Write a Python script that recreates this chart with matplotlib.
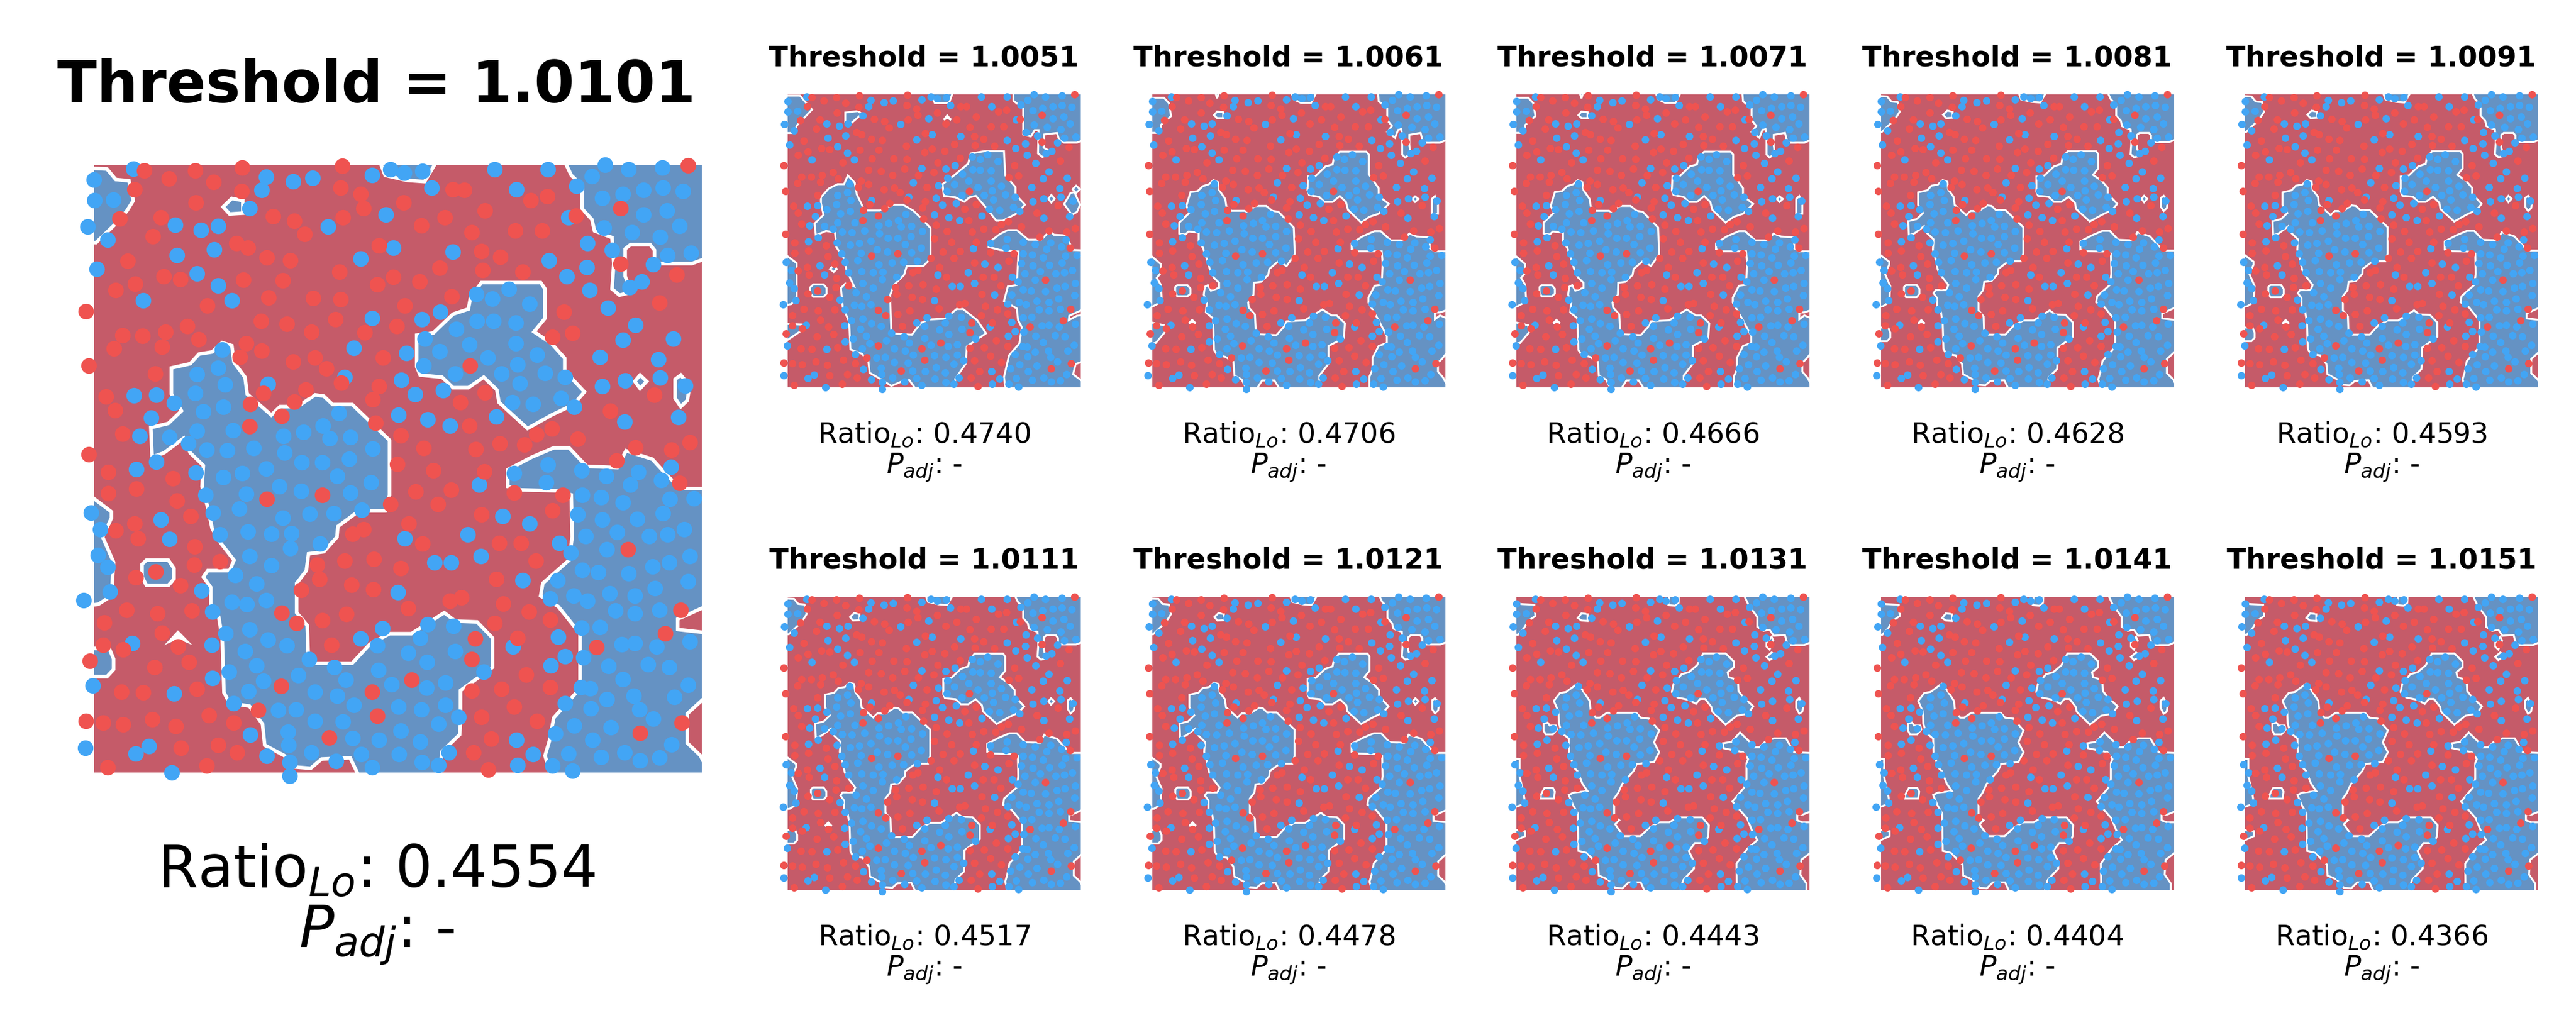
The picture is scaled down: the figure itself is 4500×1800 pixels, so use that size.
import numpy as np
from matplotlib import pyplot as plt

# spot positions (image-like coords, y goes down)
blue_spots = [(175,75),(85,100),(478,93),(540,104),(584,96),(468,125),(720,90),(762,76),(793,84),(835,80),(1000,76),(1122,76),(1252,65),(1222,92),(1306,76),(1383,72),(1187,115),(856,120),(1050,124),(1292,134),(1340,125),(1384,120),(1430,128),(86,150),(130,148),(1246,144),
    (440,169),(752,184),(1168,190),(1340,184),(1393,174),(1250,215),(70,212),(270,208),(330,220),(369,210),(620,212),(1314,226),(1422,210),(1377,236),(116,243),(1212,252),(768,262),(360,267),(275,280),(694,288),(904,272),(1268,268),(1394,280),(1448,274),(1124,292),(92,313),(1210,308),(1362,302),(320,323),(1164,331),(1308,356),(1336,343),(368,352),(1217,363),(198,388),(400,388),(958,372),(995,384),(1032,360),(1080,396),(1259,405),(876,415),(720,430),(834,433),(960,436),(997,437),(1048,440),(1322,446),(912,456),(840,478),(1293,481),(1408,478),(942,492),(1048,490),(378,505),(678,500),(875,508),(798,513),(1096,517),(984,523),(1241,522),(1374,527),(838,542),(1052,540),(368,548),(320,563),(910,562),(1015,562),(1115,560),(1160,570),(658,570),(482,586),(787,576),(1377,571),(1298,578),(1058,585),(384,587),(1246,592),(1435,590),(882,601),(818,610),(176,614),(227,612),(316,608),(268,631),(1152,620),(1040,630),(1088,634),(1182,640),(380,640),(335,651),(644,656),(216,667),(780,659),(1004,664),(847,671),(1419,665),(1296,676),(898,686),(608,685),(320,698),(402,697),(563,700),(189,710),(258,713),(517,710),(623,716),(670,713),(300,728),(342,742),(389,744),(449,738),(520,750),(722,740),(228,771),(668,765),(560,772),(606,773),(182,789),(317,797),(478,788),(424,798),(1044,799),(1122,778),(1199,792),(1255,805),(1328,795),(1402,783),(380,808),(640,805),(718,820),(1118,820),(964,825),(1380,815),(1310,826),(508,830),(558,840),(670,845),(340,850),(433,847),(1200,850),(1243,856),(1400,860),(1455,858),(1293,868),(78,892),(417,883),(357,892),(697,885),(578,895),(632,893),(1190,897),(1384,894),(516,904),(100,932),(238,909),(1246,908),(1325,907),(1018,900),(1079,918),(372,944),(436,937),(490,942),(536,941),(938,944),(1280,938),(1432,932),(1208,948),(1353,948),(1394,944),(258,955),(795,954),(601,966),(1148,964),(533,977),(1256,980),(94,993),(1174,988),(440,995),(968,996),(1446,996),(116,1022),(863,1010),(900,1010),(490,1018),(1360,1020),(1398,1010),(1200,1028),(1236,1034),(1306,1037),(408,1041),(456,1061),(1144,1053),(1442,1055),(1064,1053),(122,1080),(331,1077),(779,1082),(1366,1072),(62,1100),(400,1104),(434,1110),(478,1100),(1180,1090),(1127,1097),(1212,1102),(1263,1084),(1320,1090),(1376,1124),(356,1127),(1275,1125),(1320,1132),(440,1170),(744,1167),(385,1180),(847,1157),(906,1162),(1198,1166),(1240,1164),(830,1190),(482,1195),(694,1192),(1145,1188),(172,1202),(354,1206),(526,1208),(732,1208),(1042,1210),(1445,1198),(1290,1205),(1320,1202),(1370,1210),(910,1222),(430,1222),(803,1226),(1160,1234),(576,1241),(1202,1237),(846,1248),(456,1256),(634,1260),(734,1266),(1128,1256),(1350,1253),(1398,1260),(1260,1257),(975,1270),(394,1270),(356,1285),(552,1279),(660,1290),(472,1292),(1293,1288),(83,1303),(764,1300),(888,1297),(1197,1307),(1218,1310),(1441,1302),(845,1308),(268,1322),(438,1317),(590,1318),(640,1328),(1318,1328),(1410,1330),(1256,1336),(404,1346),(1160,1346),(678,1349),(780,1353),(888,1350),(506,1362),(547,1360),(832,1361),(1220,1358),(1330,1360),(917,1378),(590,1387),(654,1389),(1362,1382),(872,1395),(1182,1398),(786,1410),(528,1414),(1265,1403),(442,1420),(1139,1418),(676,1428),(736,1432),(830,1436),(1224,1432),(530,1445),(1404,1444),(65,1452),(210,1447),(180,1465),(480,1470),(895,1462),(1050,1432),(582,1463),(695,1466),(782,1467),(1168,1465),(1296,1463),(1087,1467),(1243,1473),(1332,1482),(1376,1475),(532,1485),(638,1483),(834,1486),(872,1492),(720,1498),(1052,1492),(1132,1494),(1178,1506),(263,1510),(532,1518)]

red_spots = [(200,78),(316,79),(424,72),(652,68),(1442,66),(256,97),(358,106),(178,124),(422,127),(648,119),(694,135),(904,124),(930,125),(1082,150),(1120,140),(318,155),(792,155),(700,168),(1288,168),(978,174),(494,187),(238,190),(654,190),(886,190),(1186,186),(144,193),(543,198),(832,209),(1108,222),(1047,222),(948,226),(566,230),(220,235),(410,252),(436,262),(736,257),(970,271),(1013,284),(480,286),(533,292),(162,293),(1288,300),(646,320),(874,310),(972,316),(1064,320),(1415,326),(245,331),(283,337),(426,338),(516,340),(768,332),(829,343),(179,348),(732,350),(135,363),(484,380),(586,382),(648,385),(902,378),(1376,393),(67,414),(344,400),(795,400),(1158,415),(466,437),(526,443),(637,433),(776,449),(298,449),(248,462),(582,462),(703,463),(1178,465),(1132,475),(150,470),(196,472),(324,480),(432,490),(131,502),(240,498),(468,507),(418,522),(540,533),(590,524),(745,523),(73,543),(615,549),(944,543),(225,562),(650,583),(568,600),(736,592),(472,608),(112,616),(978,606),(1364,612),(722,623),(542,628),(442,634),(922,630),(133,649),(1264,650),(514,662),(728,678),(440,687),(943,685),(1130,692),(1095,706),(150,704),(786,709),(1190,717),(1068,731),(1445,725),(1011,727),(957,741),(838,739),(1322,737),(1404,743),(73,754),(1278,768),(778,777),(118,796),(976,794),(860,792),(266,810),(1422,822),(182,835),(1044,845),(820,842),(900,838),(118,846),(606,850),(1155,850),(480,860),(274,864),(870,872),(762,872),(1132,887),(306,900),(970,896),(804,918),(178,918),(135,934),(676,942),(700,932),(186,953),(835,966),(1010,964),(1060,965),(315,972),(1305,979),(657,1007),(724,1002),(1094,1007),(314,1016),(372,1008),(595,1016),(786,1024),(226,1032),(180,1046),(600,1050),(1004,1050),(282,1065),(673,1064),(723,1074),(558,1076),(924,1094),(898,1102),(1020,1108),(802,1120),(1424,1124),(160,1124),(662,1133),(1078,1127),(514,1130),(308,1125),(230,1132),(606,1148),(108,1154),(548,1155),(1127,1147),(1000,1155),(240,1178),(1389,1180),(955,1191),(1052,1190),(628,1207),(106,1206),(277,1210),(152,1218),(1233,1212),(948,1240),(76,1244),(302,1248),(224,1260),(1072,1278),(810,1289),(1127,1307),(1016,1312),(948,1315),(512,1305),(720,1318),(148,1318),(198,1320),(320,1312),(1044,1354),(460,1362),(348,1374),(732,1375),(970,1378),(218,1383),(67,1388),(106,1392),(152,1396),(404,1392),(272,1400),(1097,1387),(1427,1392),(1332,1416),(622,1427),(992,1430),(284,1452),(368,1445),(412,1462),(952,1463),(116,1498),(342,1494),(985,1503)]

# Lo regions, hand traced versions of the outline, each in its own frame
mid_frame = (85, 1473, 65, 1510)
mid_regions = [
    [(85,72),(115,75),(135,100),(165,103),(175,150),(160,175),(135,205),(110,230),(90,250),(85,250)],
    [(730,65),(750,90),(800,102),(840,105),(880,65)],
    [(380,165),(400,145),(425,150),(425,180),(395,182)],
    [(1150,65),(1175,90),(1200,115),(1200,170),(1222,195),(1228,222),(1268,238),(1272,300),(1268,360),(1285,375),(1312,368),(1298,330),(1298,265),(1310,255),(1355,255),(1365,268),(1365,295),(1380,300),(1450,300),(1473,280),(1473,65)],
    [(970,345),(1105,345),(1115,360),(1115,430),(1090,462),(1130,490),(1160,525),(1160,555),(1205,605),(1180,635),(1130,660),(1075,692),(1010,630),(1005,600),(975,570),(940,595),(905,595),(880,570),(830,565),(822,545),(822,470),(860,465),(905,420),(940,408),(945,380)],
    [(378,488),(400,495),(405,535),(430,570),(435,610),(490,660),(510,640),(550,640),(590,612),(610,615),(630,635),(675,635),(710,670),(760,720),(760,850),(750,888),(690,888),(642,925),(640,950),(610,985),(575,990),(570,1030),(548,1060),(548,1130),(572,1160),(575,1250),(675,1250),(715,1205),(760,1180),(810,1180),(885,1130),(910,1150),(960,1152),(995,1190),(995,1260),(922,1315),(922,1390),(920,1420),(880,1460),(870,1510),(700,1510),(670,1475),(605,1478),(580,1500),(545,1497),(520,1470),(475,1445),(470,1395),(440,1352),(395,1345),(382,1320),(378,1190),(370,1140),(352,1130),(352,1070),(335,1045),(345,1030),(395,1030),(405,1005),(375,965),(355,930),(345,880),(332,830),(335,780),(305,750),(290,715),(245,750),(218,760),(215,690),(255,680),(285,650),(262,610),(262,548),(305,538),(325,515),(355,510)],
    [(1030,790),(1085,760),(1135,738),(1170,738),(1210,782),(1280,785),(1300,745),(1360,765),(1395,805),(1425,835),(1473,835),(1473,1105),(1440,1135),(1418,1145),(1418,1170),(1473,1180),(1473,1310),(1440,1370),(1440,1440),(1470,1470),(1473,1510),(1135,1510),(1115,1470),(1125,1435),(1135,1380),(1195,1310),(1195,1180),(1145,1115),(1105,1090),(1110,1060),(1170,1005),(1177,950),(1175,850),(1140,840),(1060,838),(1030,830)],
    [(85,835),(125,890),(125,905),(105,950),(130,1010),(125,1090),(95,1110),(85,1115)],
    [(85,1215),(120,1215),(130,1240),(130,1265),(115,1282),(85,1282)],
    [(195,1015),(205,1005),(255,1005),(268,1025),(268,1050),(255,1065),(205,1065),(195,1045)],
    [(1320,580),(1332,565),(1347,580),(1332,597)],
    [(1412,575),(1425,565),(1445,590),(1440,625),(1425,640),(1412,620)],
    [(262,1195),(277,1178),(293,1195),(277,1188)],
]

early_frame = (170, 1315, 228, 1230)
early_regions = [
    [(170,232),(218,232),(240,255),(265,280),(205,335),(200,360),(170,360)],
    [(710,228),(745,258),(800,258),(825,228)],
    [(395,322),(395,290),(445,285),(460,295),(420,325)],
    [(780,315),(793,300),(808,315),(793,308)],
    [(1052,228),(1052,250),(1090,275),(1090,365),(1120,372),(1135,350),(1150,350),(1148,430),(1165,442),(1200,425),(1170,410),(1172,365),(1222,360),(1230,382),(1250,393),(1300,393),(1315,378),(1315,228)],
    [(885,430),(940,422),(1015,422),(1020,505),(1060,545),(1060,570),(1097,605),(1065,635),(1010,660),(985,660),(940,610),(905,575),(880,580),(860,595),(825,580),(780,575),(775,535),(820,505),(875,465)],
    [(405,505),(432,530),(440,570),(465,615),(480,625),(530,625),(585,605),(620,605),(660,625),(690,650),(728,685),(728,790),(700,815),(635,815),(625,845),(585,880),(570,915),(575,1045),(655,1050),(690,1010),(720,998),(785,995),(830,962),(855,962),(910,1000),(945,1045),(870,1090),(865,1150),(825,1200),(820,1230),(690,1230),(645,1205),(615,1210),(575,1225),(530,1200),(490,1180),(485,1140),(460,1115),(415,1100),(410,1005),(385,955),(378,890),(395,875),(430,885),(400,830),(390,790),(360,750),(355,700),(320,695),(280,710),(275,670),(310,640),(300,600),(300,580),(330,550),(365,535),(390,535)],
    [(955,735),(1000,705),(1030,692),(1065,692),(1110,725),(1160,725),(1195,695),(1210,708),(1255,710),(1285,760),(1315,762),(1315,955),(1270,985),(1268,1000),(1300,985),(1315,980),(1315,1135),(1295,1150),(1285,1185),(1315,1225),(1315,1230),(1025,1230),(1015,1195),(1035,1120),(1075,1080),(1085,1025),(1070,1000),(1065,960),(1015,935),(1030,885),(1065,880),(1072,765),(1000,760),(955,750)],
    [(170,762),(205,805),(205,920),(185,945),(170,952)],
    [(170,1012),(225,1015),(225,1035),(170,1085)],
    [(258,888),(270,878),(310,878),(322,890),(322,910),(310,920),(270,920),(258,908)],
    [(1188,585),(1200,572),(1213,585),(1200,598)],
    [(1283,552),(1297,540),(1312,552),(1297,565)],
    [(1250,603),(1275,565),(1290,562),(1312,605),(1300,630),(1280,640)],
    [(335,825),(350,812),(362,825),(350,835)],
]

second_frame = (82, 1515, 45, 1530)
second_regions = [
    [(82,62),(140,62),(165,90),(175,155),(125,200),(125,235),(100,240),(82,240)],
    [(755,45),(775,70),(810,88),(860,88),(895,45)],
    [(385,45),(400,65),(415,45)],
    [(385,150),(400,132),(430,135),(430,165),(400,165)],
    [(1185,45),(1190,80),(1232,115),(1232,175),(1255,205),(1232,235),(1270,265),(1285,225),(1300,220),(1305,250),(1305,350),(1320,365),(1345,345),(1340,300),(1340,250),(1395,240),(1405,280),(1420,290),(1490,290),(1515,265),(1515,45)],
    [(1000,335),(1130,335),(1142,350),(1142,450),(1190,520),(1190,560),(1240,600),(1190,650),(1145,665),(1105,695),(1040,630),(1030,590),(1000,560),(965,590),(925,590),(900,565),(850,555),(842,530),(845,460),(880,460),(930,410),(965,400),(970,370)],
    [(382,480),(405,490),(410,530),(440,575),(445,610),(470,635),(535,635),(545,640),(590,610),(640,610),(670,635),(700,640),(775,720),(780,855),(740,915),(700,890),(655,930),(650,960),(615,995),(580,1000),(578,1060),(552,1100),(555,1125),(585,1160),(590,1260),(690,1265),(725,1225),(740,1195),(830,1190),(860,1170),(915,1135),(960,1165),(985,1165),(1025,1205),(1020,1280),(945,1320),(945,1410),(900,1470),(900,1530),(720,1530),(680,1495),(620,1495),(580,1530),(555,1530),(520,1490),(485,1470),(480,1400),(440,1375),(400,1365),(385,1340),(380,1180),(345,1150),(350,1100),(335,1060),(340,1020),(355,1012),(370,1040),(410,1025),(410,1000),(385,975),(370,950),(350,880),(330,820),(310,800),(310,745),(260,740),(245,755),(215,750),(215,695),(265,645),(250,610),(270,540),(305,535),(330,510),(360,500)],
    [(1058,800),(1110,765),(1170,738),(1200,738),(1250,785),(1310,785),(1340,750),(1375,765),(1440,770),(1440,825),(1465,840),(1515,840),(1515,1130),(1490,1150),(1465,1150),(1465,1185),(1490,1165),(1515,1190),(1515,1325),(1500,1385),(1480,1405),(1480,1450),(1505,1480),(1515,1530),(1145,1530),(1145,1475),(1160,1440),(1160,1380),(1190,1320),(1230,1305),(1230,1270),(1190,1190),(1140,1100),(1140,1075),(1170,1015),(1205,1010),(1210,900),(1205,840),(1090,840),(1058,830)],
    [(82,840),(125,905),(125,950),(105,975),(125,1010),(130,1095),(85,1120),(82,1120)],
    [(82,1195),(140,1215),(145,1250),(100,1305),(82,1310)],
    [(195,1022),(205,1012),(255,1012),(270,1030),(270,1055),(255,1068),(205,1068),(195,1048)],
    [(1355,575),(1368,562),(1385,575),(1368,590)],
    [(1450,575),(1465,560),(1480,590),(1480,650),(1450,650)],
    [(262,1205),(278,1188),(295,1205),(278,1198)],
]

late_frame = (62, 1495, 38, 1522)
late_regions = [
    [(62,68),(90,75),(150,78),(155,135),(120,160),(100,195),(70,230),(62,230)],
    [(812,38),(858,38),(855,68),(838,83),(805,80)],
    [(362,145),(380,122),(410,125),(410,160),(380,158)],
    [(1165,38),(1195,75),(1215,105),(1240,140),(1240,190),(1270,210),(1300,205),(1320,235),(1375,232),(1385,270),(1400,282),(1470,282),(1495,258),(1495,38)],
    [(1285,270),(1310,240),(1318,260),(1300,305),(1285,290)],
    [(1285,342),(1310,320),(1330,340),(1300,358)],
    [(975,325),(1085,325),(1125,365),(1125,395),(1095,420),(1100,445),(1145,460),(1148,515),(1170,545),(1220,592),(1195,630),(1140,640),(1085,685),(1020,620),(1015,595),(985,555),(960,555),(940,580),(905,560),(850,548),(822,520),(830,480),(870,430),(905,420),(945,385)],
    [(360,478),(385,510),(420,565),(425,615),(450,650),(470,650),(505,625),(648,625),(670,650),(710,655),(760,715),(735,775),(760,825),(735,875),(650,885),(635,920),(580,985),(560,1030),(540,1060),(540,1150),(565,1170),(545,1190),(585,1250),(668,1250),(715,1205),(760,1180),(810,1180),(850,1155),(970,1155),(1003,1195),(1000,1250),(985,1285),(935,1285),(905,1325),(930,1380),(930,1415),(880,1470),(875,1480),(860,1522),(700,1522),(670,1485),(610,1485),(580,1515),(545,1512),(510,1470),(465,1450),(462,1395),(405,1335),(365,1325),(362,1135),(340,1095),(318,1042),(340,1030),(410,1022),(385,985),(360,920),(345,905),(320,830),(318,755),(285,730),(270,680),(268,620),(245,565),(275,525),(305,520)],
    [(195,715),(195,680),(215,675),(225,690),(255,690),(260,710),(240,735),(205,735)],
    [(1072,780),(1115,772),(1155,725),(1205,775),(1225,800),(1250,800),(1280,770),(1320,755),(1380,755),(1420,825),(1495,830),(1495,1115),(1465,1140),(1435,1145),(1435,1170),(1460,1180),(1495,1180),(1495,1315),(1455,1370),(1450,1445),(1480,1490),(1480,1522),(1140,1522),(1138,1390),(1190,1315),(1240,1270),(1215,1225),(1190,1160),(1118,1075),(1175,1005),(1187,960),(1187,880),(1195,860),(1170,825),(1075,805)],
    [(62,855),(78,860),(78,950),(95,1020),(105,1085),(62,1112)],
    [(62,1215),(105,1225),(105,1250),(62,1285)],
    [(182,1040),(200,1005),(240,1005),(250,1025),(245,1060),(180,1060)],
    [(1430,600),(1430,565),(1445,550),(1465,590),(1460,620),(1445,630)],
]

thresholds = ['1.0051','1.0061','1.0071','1.0081','1.0091','1.0111','1.0121','1.0131','1.0141','1.0151']
ratios = ['0.4740','0.4706','0.4666','0.4628','0.4593','0.4517','0.4478','0.4443','0.4404','0.4366']
outlines = ['early','second','second','mid','mid','mid','mid','late','late','late']
main_threshold = '1.0101'
main_ratio = '0.4554'

RED_BG, BLUE_BG = '#c55b69', '#6592c3'
RED, BLUE = '#ef5350', '#42a5f5'
W, H = 4500, 1800


def draw_panel(left, top, size, threshold, ratio, outline, spot_size, lw, title_fs, label_fs, title_y, label_y, spacing):
    ax = fig.add_axes([left / W, 1 - (top + size) / H, size / W, size / H])
    ax.set_xlim(mid_frame[0], mid_frame[1])
    ax.set_ylim(mid_frame[3], mid_frame[2])
    ax.set_xticks([])
    ax.set_yticks([])
    ax.set_facecolor(RED_BG)
    for s in ax.spines.values():
        s.set_visible(False)

    regions, frame = {'early': (early_regions, early_frame),
                      'second': (second_regions, second_frame),
                      'mid': (mid_regions, mid_frame),
                      'late': (late_regions, late_frame)}[outline]
    for region in regions:
        p = np.array(region, dtype=float)
        # outline touching the frame gets pushed out, the axes clips the white line there
        x, y = p[:, 0], p[:, 1]
        x = np.where(x <= frame[0], frame[0] - 30, np.where(x >= frame[1], frame[1] + 30, x))
        y = np.where(y <= frame[2], frame[2] - 30, np.where(y >= frame[3], frame[3] + 30, y))
        x = mid_frame[0] + (x - frame[0]) * (mid_frame[1] - mid_frame[0]) / (frame[1] - frame[0])
        y = mid_frame[2] + (y - frame[2]) * (mid_frame[3] - mid_frame[2]) / (frame[3] - frame[2])
        ax.fill(x, y, facecolor=BLUE_BG, edgecolor='white', lw=lw, zorder=1)

    b = np.array(blue_spots)
    r = np.array(red_spots)
    ax.scatter(b[:, 0], b[:, 1], s=spot_size, c=BLUE, lw=0, clip_on=False, zorder=2)
    ax.scatter(r[:, 0], r[:, 1], s=spot_size, c=RED, lw=0, clip_on=False, zorder=3)

    ax.text(0.465, title_y, 'Threshold = ' + threshold, transform=ax.transAxes, ha='center', va='center',
            fontsize=title_fs, fontweight='bold')
    ax.text(0.465, label_y, 'Ratio$_{Lo}$: ' + ratio + '\n$P_{adj}$: -', transform=ax.transAxes, ha='center',
            va='center', fontsize=label_fs, linespacing=spacing)


fig = plt.figure(figsize=(15, 6), dpi=300)

draw_panel(164, 288, 1062, main_threshold, main_ratio, 'mid', 43, 1.5, 24.3, 24.3, 1.129, -0.218, 1.1)

for i in range(10):
    col, row = i % 5, i // 5
    left = 1376 + col * 636.5
    top = [165, 1043][row]
    draw_panel(left, top, 512, thresholds[i], ratios[i], outlines[i], 10, 0.8, 11.8, 11.8, 1.124, -0.22, 1.15)

plt.savefig('out.png', dpi=300)
